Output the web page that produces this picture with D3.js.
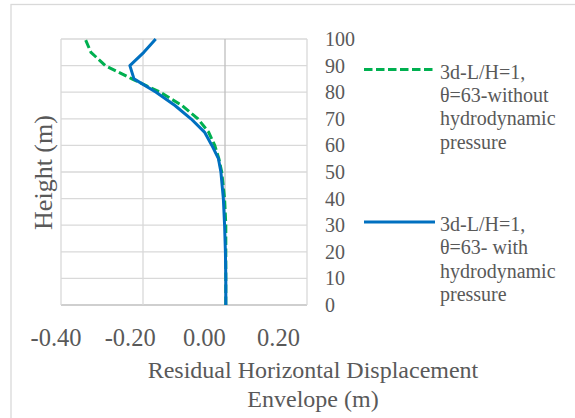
<!DOCTYPE html>
<html>
<head>
<meta charset="utf-8">
<script src="https://cdn.jsdelivr.net/npm/d3@7"></script>
<style>
  body { margin: 0; background: white; }
  text { font-family: "Liberation Serif", "Times New Roman", serif; fill: #595959; }
</style>
</head>
<body>
<div id="canvas"></div>
<script>
"use strict"

let drawingWidth = 575;
let drawingHeight = 418;

// heights (m) and residual displacement (m) for each series
let heights = [0, 10, 20, 30, 40, 50, 55, 60, 65, 70, 75, 80, 85, 90, 95, 100];
let withoutHydro = [0.002, 0.002, 0.002, 0.002, -0.001, -0.008, -0.015, -0.025, -0.040, -0.066, -0.105, -0.158, -0.227, -0.292, -0.327, -0.341];
let withHydro = [0.002, 0.002, 0.001, -0.001, -0.004, -0.010, -0.016, -0.032, -0.050, -0.083, -0.122, -0.168, -0.222, -0.232, -0.198, -0.169];

let xTicks = [-0.4, -0.2, 0.0, 0.2];
let yTicks = [0, 10, 20, 30, 40, 50, 60, 70, 80, 90, 100];

let legendLabels = [
    ["3d-L/H=1,", "θ=63-without", "hydrodynamic", "pressure"],
    ["3d-L/H=1,", "θ=63- with", "hydrodynamic", "pressure"]
];

let xTitle = ["Residual Horizontal Displacement", "Envelope (m)"];
let yTitle = "Height (m)";

let drawing = d3.select("#canvas")
    .append("svg")
    .attr("width", drawingWidth)
    .attr("height", drawingHeight);

/* chart border, only top and left show in the picture */
drawing.append("rect")
    .attr("x", 11)
    .attr("y", 4.5)
    .attr("width", 600)
    .attr("height", 450)
    .attr("fill", "white")
    .attr("stroke", "#d9d9d9")
    .attr("stroke-width", 1.3);

let x = d3.scaleLinear().domain([-0.4, 0.2]).range([61, 307]);
let y = d3.scaleLinear().domain([0, 100]).range([305, 39]);
// tick labels sit a bit left of the gridlines in the picture
let xLabel = d3.scaleLinear().domain([-0.4, 0.2]).range([55.5, 278]);

/* gridlines */
drawing.append("g")
    .selectAll("line")
    .data(yTicks)
    .join("line")
    .attr("x1", x(-0.4))
    .attr("x2", x(0.2))
    .attr("y1", d => y(d))
    .attr("y2", d => y(d))
    .attr("stroke", d => d == 0 ? "#bfbfbf" : "#d9d9d9")
    .attr("stroke-width", 1.3);

drawing.append("g")
    .selectAll("line")
    .data(xTicks)
    .join("line")
    .attr("x1", d => x(d))
    .attr("x2", d => x(d))
    .attr("y1", y(0))
    .attr("y2", y(100))
    .attr("stroke", d => d == 0 ? "#bfbfbf" : "#d9d9d9")
    .attr("stroke-width", 1.3);

/* y tick labels on the right */
drawing.append("g")
    .selectAll("text")
    .data(yTicks)
    .join("text")
    .attr("x", 325)
    .attr("y", d => y(d) + 7)
    .attr("font-size", 20)
    .text(d => d);

/* x tick labels, plain hyphen for the minus like the picture */
let xAxis = d3.axisBottom(xLabel)
    .tickValues(xTicks)
    .tickFormat(d => d3.format(".2f")(d).replace("−", "-"))
    .tickSize(0);

let xAxisGroup = drawing.append("g")
    .attr("transform", "translate(0,327)")
    .call(xAxis);
xAxisGroup.select(".domain").remove();
xAxisGroup.selectAll("text")
    .attr("fill", null)
    .attr("dy", 0)
    .attr("y", 18.5)
    .attr("font-size", 24.5);
xAxisGroup.attr("font-family", null).attr("font-size", null);

/* axis titles */
drawing.append("text")
    .attr("transform", "translate(52,172.5) rotate(-90)")
    .attr("text-anchor", "middle")
    .attr("font-size", 26)
    .text(yTitle);

drawing.append("g")
    .selectAll("text")
    .data(xTitle)
    .join("text")
    .attr("x", 313)
    .attr("y", (d, i) => 378 + i * 29)
    .attr("text-anchor", "middle")
    .attr("font-size", 24)
    .text(d => d);

/* series */
let line = d3.line()
    .x(d => x(d[1]))
    .y(d => y(d[0]));

drawing.append("path")
    .datum(d3.zip(heights, withoutHydro))
    .attr("d", line)
    .attr("fill", "none")
    .attr("stroke", "#00b050")
    .attr("stroke-width", 3)
    .attr("stroke-dasharray", "8.5,3.5");

drawing.append("path")
    .datum(d3.zip(heights, withHydro))
    .attr("d", line)
    .attr("fill", "none")
    .attr("stroke", "#0070c0")
    .attr("stroke-width", 3)
    .attr("stroke-linejoin", "round");

/* legend */
let legendColors = ["#00b050", "#0070c0"];
let legendDash = ["8.5,3.5", null];
let legendY = [69.5, 222];

let legend = drawing.append("g")
    .selectAll("g")
    .data(legendLabels)
    .join("g")
    .attr("transform", (d, i) => "translate(0," + legendY[i] + ")");

legend.append("line")
    .attr("x1", 364)
    .attr("x2", 435)
    .attr("y1", 0)
    .attr("y2", 0)
    .attr("stroke", (d, i) => legendColors[i])
    .attr("stroke-width", 3)
    .attr("stroke-dasharray", (d, i) => legendDash[i]);

legend.selectAll("text")
    .data(d => d)
    .join("text")
    .attr("x", 440)
    .attr("y", (d, i) => 9 + i * 23.4)
    .attr("font-size", 20)
    .text(d => d);
</script>
</body>
</html>
